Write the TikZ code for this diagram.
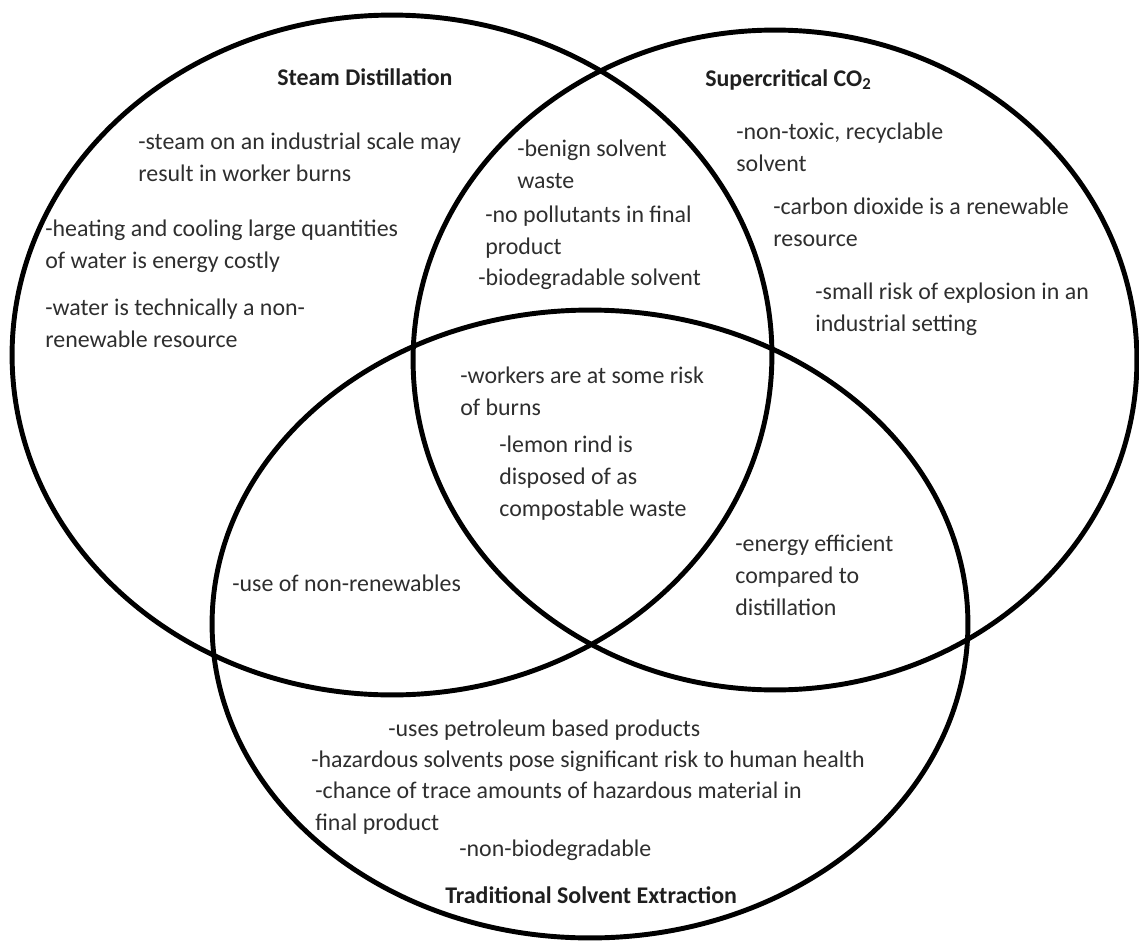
\documentclass[tikz,border=0pt]{standalone}
\usepackage{fontspec}
\setmainfont{Carlito}
\usepackage{xcolor}
\definecolor{inktext}{HTML}{2E2E2E}

\begin{document}
\begin{tikzpicture}[x=0.02cm, y=-0.02cm,
    ring/.style={draw=black, line width=2.8pt},
    every node/.style={font=\fontsize{13.6}{18.1}\selectfont, text=inktext, inner sep=0pt, align=left},
    note/.style={anchor=base west},
    title/.style={anchor=base west, font=\fontsize{13.6}{18.1}\selectfont\bfseries, text=black!88}]
  \useasboundingbox (0,0) rectangle (1139,943);
  % the three sets
  \coordinate (steamc) at (392,355);
  \coordinate (scco2c) at (775,360);
  \coordinate (tradc) at (590,624);
  \draw[ring] (steamc) ellipse [x radius=7.6cm, y radius=6.8cm];
  \draw[ring] (scco2c) ellipse [x radius=7.24cm, y radius=6.6cm];
  \draw[ring] (tradc) ellipse [x radius=7.56cm, y radius=6.28cm];
  % titles
  \node[title] (steam) at (277,85) {Steam Distillation};
  \node[title] (scco2) at (705,86) {Supercritical CO\textsubscript{2}};
  \node[title] (trad) at (445,903) {Traditional Solvent Extraction};
  % steam only (base = last line)
  \node[note] (burns) at (138,181) {-steam on an industrial scale may\\result in worker burns};
  \node[note] (heat) at (45,268) {-heating and cooling large quantities\\of water is energy costly};
  \node[note] (water) at (45,347) {-water is technically a non-\\renewable resource};
  % steam and supercritical
  \node[note] (benign) at (517,188) {-benign solvent\\waste};
  \node[note] (nopoll) at (485,254) {-no pollutants in final\\product};
  \node[note] (biodeg) at (478,285) {-biodegradable solvent};
  % supercritical only
  \node[note] (nontox) at (736,171) {-non-toxic, recyclable\\solvent};
  \node[note] (carbon) at (773,246) {-carbon dioxide is a renewable\\resource};
  \node[note] (explo) at (815,331) {-small risk of explosion in an\\industrial setting};
  % all three
  \node[note] (workers) at (460,415) {-workers are at some risk\\of burns};
  \node[note] (rind) at (499,516) {-lemon rind is\\disposed of as\\compostable waste};
  % supercritical and traditional
  \node[note] (effic) at (735,615) {-energy efficient\\compared to\\distillation};
  % steam and traditional
  \node[note] (nonren) at (232,591) {-use of non-renewables};
  % traditional only
  \node[note] (petro) at (388,736) {-uses petroleum based products};
  \node[note] (hazard) at (311,767) {-hazardous solvents pose significant risk to human health};
  \node[note] (trace) at (315,830) {-chance of trace amounts of hazardous material in\\final product};
  \node[note] (nonbio) at (459,856) {-non-biodegradable};
\end{tikzpicture}
\end{document}
